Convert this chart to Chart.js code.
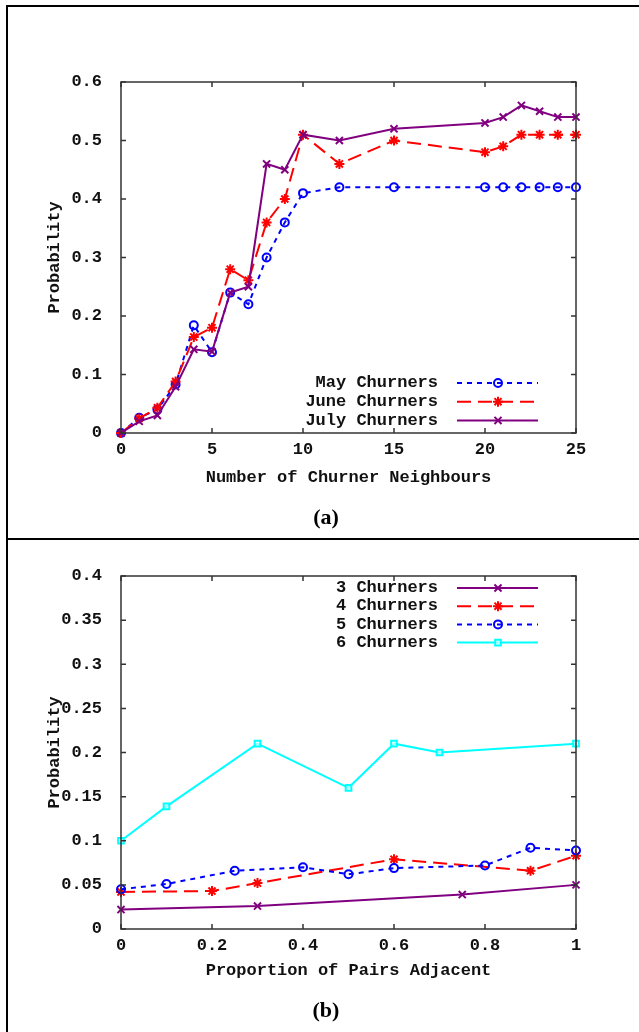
<!DOCTYPE html>
<html>
<head>
<meta charset="utf-8">
<script src="https://cdn.jsdelivr.net/npm/chart.js@4/dist/chart.umd.min.js"></script>
<style>
  body { margin: 0; background: #fff; }
  #page { position: relative; width: 639px; height: 1032px; overflow: hidden; background: #fff; }
  canvas { position: absolute; left: 0; }
  .rule { position: absolute; background: #000; }
  .caption { position: absolute; width: 100px; margin-left: -50px; text-align: center;
             font: bold 22px "Liberation Serif", "Times New Roman", serif; line-height: 22px; }
</style>
</head>
<body>
<div id="page">
  <canvas id="chartA" width="639" height="538" style="top:0"></canvas>
  <canvas id="chartB" width="639" height="492" style="top:540px"></canvas>
  <div class="rule" style="left:6px;top:5px;width:2px;height:1027px"></div>
  <div class="rule" style="left:6px;top:5px;width:633px;height:2px"></div>
  <div class="rule" style="left:6px;top:538px;width:633px;height:2px"></div>
  <div class="caption" style="left:326px;top:506px">(a)</div>
  <div class="caption" style="left:326px;top:999px">(b)</div>
</div>
<script>
// (a) number of churner neighbours vs probability
const neighbours = [0, 1, 2, 3, 4, 5, 6, 7, 8, 9, 10, 12, 15, 20, 21, 22, 23, 24, 25];
const mayChurners = [0, 0.026, 0.04, 0.083, 0.184, 0.138, 0.24, 0.22, 0.30, 0.36, 0.41, 0.42, 0.42, 0.42, 0.42, 0.42, 0.42, 0.42, 0.42];
const juneChurners = [0, 0.025, 0.043, 0.088, 0.164, 0.18, 0.28, 0.261, 0.36, 0.40, 0.51, 0.46, 0.50, 0.48, 0.49, 0.51, 0.51, 0.51, 0.51];
const julyChurners = [0, 0.02, 0.03, 0.079, 0.143, 0.139, 0.24, 0.25, 0.46, 0.45, 0.51, 0.50, 0.52, 0.53, 0.54, 0.56, 0.55, 0.54, 0.54];

// (b) proportion of pairs adjacent vs probability
const adj3 = [0, 0.3, 0.75, 1];
const churn3 = [0.022, 0.026, 0.039, 0.05];
const adj4 = [0, 0.2, 0.3, 0.6, 0.9, 1];
const churn4 = [0.042, 0.043, 0.052, 0.079, 0.066, 0.083];
const adj5 = [0, 0.1, 0.25, 0.4, 0.5, 0.6, 0.8, 0.9, 1];
const churn5 = [0.045, 0.051, 0.066, 0.07, 0.062, 0.069, 0.072, 0.092, 0.089];
const adj6 = [0, 0.1, 0.3, 0.5, 0.6, 0.7, 1];
const churn6 = [0.10, 0.139, 0.21, 0.16, 0.21, 0.20, 0.21];

const monoFont = '"Liberation Mono", "Courier New", monospace';

// pair up x and y arrays for a linear x scale
function points(xs, ys) {
  return xs.map((x, i) => ({ x: x, y: ys[i] }));
}

// gnuplot prints 0.1 not 0.10, 1 not 1.0
function shortNumber(v) {
  return String(Math.round(v * 100) / 100);
}

// dataset styles, gnuplot look
function series(label, xs, ys, color, dash, pointStyle, radius, order) {
  return {
    label: label,
    data: points(xs, ys),
    borderColor: color,
    borderWidth: 2,
    borderDash: dash,
    pointStyle: pointStyle,
    pointRadius: radius,
    pointBorderWidth: 2,
    pointBorderColor: color,
    pointBackgroundColor: pointStyle == 'rect' ? 'rgba(255,255,255,0.6)' : 'rgba(0,0,0,0)',
    tension: 0,
    fill: false,
    clip: false,
    order: order
  };
}

// box, inward ticks, axis titles and a gnuplot style key
const gnuplotFrame = {
  id: 'gnuplotFrame',
  afterDatasetsDraw(chart, args, opts) {
    const ctx = chart.ctx;
    const a = chart.chartArea;
    const xs = chart.scales.x, ys = chart.scales.y;
    ctx.save();
    ctx.strokeStyle = '#333';
    ctx.lineWidth = 1.5;
    ctx.setLineDash([]);
    ctx.strokeRect(a.left, a.top, a.right - a.left, a.bottom - a.top);
    ctx.beginPath();
    xs.ticks.forEach(t => {
      const px = xs.getPixelForValue(t.value);
      ctx.moveTo(px, a.bottom); ctx.lineTo(px, a.bottom - 5);
      ctx.moveTo(px, a.top); ctx.lineTo(px, a.top + 5);
    });
    ys.ticks.forEach(t => {
      const py = ys.getPixelForValue(t.value);
      ctx.moveTo(a.left, py); ctx.lineTo(a.left + 5, py);
      ctx.moveTo(a.right, py); ctx.lineTo(a.right - 5, py);
    });
    ctx.stroke();

    // axis titles
    ctx.fillStyle = '#111';
    ctx.font = 'bold 17px ' + monoFont;
    ctx.textAlign = 'center';
    ctx.textBaseline = 'middle';
    ctx.fillText(opts.xTitle, (a.left + a.right) / 2, a.bottom + opts.xGap);
    ctx.save();
    ctx.translate(55, (a.top + a.bottom) / 2);
    ctx.rotate(-Math.PI / 2);
    ctx.fillText('Probability', 0, 0);
    ctx.restore();

    // key
    chart.data.datasets.forEach((ds, i) => {
      const y = opts.keyTop + i * opts.keyStep;
      ctx.fillStyle = '#111';
      ctx.textAlign = 'right';
      ctx.fillText(ds.label, 438, y);
      ctx.strokeStyle = ds.borderColor;
      ctx.lineWidth = ds.borderWidth;
      ctx.setLineDash(ds.borderDash);
      ctx.beginPath();
      ctx.moveTo(457, y); ctx.lineTo(538, y);
      ctx.stroke();
      ctx.setLineDash([]);
      ctx.lineWidth = ds.pointBorderWidth;
      ctx.fillStyle = ds.pointBackgroundColor;
      if (Chart.helpers && Chart.helpers.drawPoint) {
        Chart.helpers.drawPoint(ctx, { pointStyle: ds.pointStyle, radius: ds.pointRadius, rotation: 0, borderWidth: ds.pointBorderWidth }, 498, y);
      }
    });
    ctx.restore();
  }
};

function makeChart(id, datasets, xRange, yRange, padding, frameOpts) {
  return new Chart(document.getElementById(id), {
    type: 'line',
    data: { datasets: datasets },
    options: {
      responsive: false,
      animation: false,
      devicePixelRatio: 1,
      layout: { padding: padding },
      plugins: {
        legend: { display: false },
        tooltip: { enabled: false },
        gnuplotFrame: frameOpts
      },
      scales: {
        x: {
          type: 'linear',
          min: xRange[0], max: xRange[1],
          grid: { display: false, drawTicks: false },
          border: { display: false },
          ticks: { stepSize: xRange[2], padding: 7, color: '#111', callback: shortNumber,
                   font: { family: monoFont, size: 17, weight: 'bold' } },
          afterFit: s => { s.height = 30; }
        },
        y: {
          min: yRange[0], max: yRange[1],
          grid: { display: false, drawTicks: false },
          border: { display: false },
          ticks: { stepSize: yRange[2], padding: 19, color: '#111', callback: shortNumber,
                   font: { family: monoFont, size: 17, weight: 'bold' } },
          afterFit: s => { s.width = 121; }
        }
      }
    },
    plugins: [gnuplotFrame]
  });
}

makeChart('chartA', [
  series('May Churners', neighbours, mayChurners, '#0000ff', [5, 5], 'circle', 4, 3),
  series('June Churners', neighbours, juneChurners, '#ff0000', [14, 7], 'star', 5, 2),
  series('July Churners', neighbours, julyChurners, '#800080', [], 'crossRot', 5, 1)
], [0, 25, 5], [0, 0.6, 0.1], { top: 82, left: 0, right: 63, bottom: 75 },
  { xTitle: 'Number of Churner Neighbours', xGap: 45, keyTop: 383, keyStep: 18.7 });

makeChart('chartB', [
  series('3 Churners', adj3, churn3, '#800080', [], 'crossRot', 5, 4),
  series('4 Churners', adj4, churn4, '#ff0000', [14, 7], 'star', 5, 3),
  series('5 Churners', adj5, churn5, '#0000ff', [5, 5], 'circle', 4, 2),
  series('6 Churners', adj6, churn6, '#00ffff', [], 'rect', 4, 1)
], [0, 1, 0.2], [0, 0.4, 0.05], { top: 36, left: 0, right: 63, bottom: 73 },
  { xTitle: 'Proportion of Pairs Adjacent', xGap: 42, keyTop: 48, keyStep: 18.2 });
</script>
</body>
</html>
